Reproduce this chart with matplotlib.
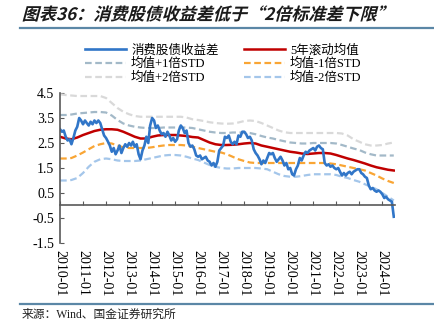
import numpy as np
import pandas as pd
import matplotlib
matplotlib.use("Agg")
import matplotlib.pyplot as plt
import matplotlib.patheffects as pe
from matplotlib.lines import Line2D
from matplotlib.transforms import Affine2D

plt.rcParams['axes.unicode_minus'] = False
plt.rcParams['font.family'] = ['Liberation Serif', 'Noto Sans CJK SC', 'DejaVu Sans']

title = "图表36：消费股债收益差低于“2倍标准差下限”"
source = "来源：Wind、国金证券研究所"
labels = ["消费股债收益差", "5年滚动均值", "均值+1倍STD", "均值-1倍STD", "均值+2倍STD", "均值-2倍STD"]
year_labels = ["%d-01" % y for y in range(2010, 2025)]

# monthly spread, 2010-01 .. 2024-07
spread = [
    3.05, 2.95, 3.0, 2.75, 2.6, 2.65, 2.45, 2.7, 3.0, 3.15, 3.5, 3.4,
    3.25, 3.4, 3.3, 3.2, 3.35, 3.25, 3.4, 3.3, 3.4, 3.3, 3.05, 2.8,
    2.7, 2.55, 2.4, 2.15, 2.3, 2.05, 2.2, 2.4, 2.1, 2.3, 2.45, 2.35,
    2.5, 2.4, 2.55, 2.35, 2.45, 2.05, 1.85, 2.2, 2.4, 2.75, 2.5, 3.2,
    3.5, 3.4, 3.1, 3.2, 3.0, 2.85, 2.9, 2.75, 2.95, 2.8, 2.6, 2.7,
    2.55, 2.65, 3.0, 3.2, 3.1, 2.9, 3.0, 2.5, 2.35, 2.4, 2.25, 2.0,
    1.95, 2.0, 1.85, 1.9, 1.95, 1.8, 1.75, 1.6, 1.7, 1.55, 1.75, 2.2,
    2.3, 2.4, 2.75, 2.7, 2.8, 2.55, 2.45, 2.55, 2.45, 2.8, 2.75, 2.95,
    2.95, 2.85, 2.7, 2.75, 2.6, 2.25, 2.1, 2.0, 1.85, 1.65, 1.8, 1.7,
    1.9, 2.1, 2.05, 2.1, 1.9, 1.75, 1.85, 1.95, 1.8, 1.6, 1.7, 1.45,
    1.5, 1.25, 1.2, 1.45, 1.6, 1.9, 1.8, 2.0, 2.15, 2.1, 2.2, 2.25,
    2.3, 2.2, 2.35, 2.4, 2.3, 2.25, 1.7, 1.6, 1.65, 1.55, 1.6, 1.5,
    1.45, 1.5, 1.35, 1.2, 1.3, 1.2, 1.3, 1.35, 1.25, 1.35, 1.4, 1.45,
    1.45, 1.3, 1.25, 1.15, 1.1, 0.8, 0.65, 0.7, 0.6, 0.55, 0.6, 0.55,
    0.45, 0.3, 0.35, 0.25, 0.2, 0.15, -0.45,
]

# quarterly bands, 2010-01 .. 2024-07
mean5 = [
    2.75, 2.68, 2.65, 2.72, 2.82, 2.9, 2.98, 3.03, 3.05, 3.05, 3.03, 2.95,
    2.85, 2.75, 2.68, 2.68, 2.75, 2.8, 2.82, 2.82, 2.82, 2.8, 2.78, 2.74,
    2.72, 2.62, 2.52, 2.45, 2.42, 2.42, 2.43, 2.45, 2.48, 2.5, 2.48, 2.4,
    2.35, 2.3, 2.25, 2.2, 2.15, 2.12, 2.08, 2.06, 2.08, 2.1, 2.1, 2.08,
    2.02, 1.95, 1.88, 1.82, 1.75, 1.68, 1.6, 1.53, 1.48, 1.43, 1.4,
]
plus1 = [
    3.62, 3.62, 3.64, 3.68, 3.7, 3.72, 3.74, 3.74, 3.72, 3.6, 3.42, 3.28,
    3.2, 3.15, 3.12, 3.1, 3.1, 3.1, 3.12, 3.12, 3.12, 3.12, 3.12, 3.1,
    3.05, 3.0, 2.95, 2.92, 2.9, 2.9, 2.92, 2.92, 2.92, 2.9, 2.85, 2.78,
    2.72, 2.68, 2.62, 2.57, 2.52, 2.5, 2.48, 2.48, 2.5, 2.5, 2.5, 2.5,
    2.48, 2.42, 2.35, 2.28, 2.22, 2.12, 2.05, 2.0, 2.0, 2.0, 2.0,
]
plus2 = [
    4.45, 4.42, 4.4, 4.38, 4.38, 4.38, 4.38, 4.38, 4.3, 4.1, 3.9, 3.75,
    3.65, 3.58, 3.55, 3.55, 3.55, 3.55, 3.55, 3.55, 3.55, 3.55, 3.52, 3.45,
    3.42, 3.38, 3.33, 3.3, 3.28, 3.27, 3.28, 3.32, 3.38, 3.4, 3.38, 3.3,
    3.2, 3.1, 3.0, 2.93, 2.9, 2.9, 2.9, 2.9, 2.9, 2.9, 2.9, 2.9,
    2.9, 2.88, 2.8, 2.65, 2.55, 2.45, 2.4, 2.4, 2.42, 2.48, 2.52,
]
minus1 = [
    1.88, 1.88, 1.9, 2.0, 2.12, 2.25, 2.38, 2.45, 2.5, 2.48, 2.4, 2.33,
    2.3, 2.3, 2.3, 2.3, 2.33, 2.37, 2.4, 2.42, 2.42, 2.42, 2.4, 2.35,
    2.3, 2.25, 2.2, 2.15, 2.12, 2.05, 1.95, 1.85, 1.78, 1.72, 1.7, 1.7,
    1.7, 1.7, 1.7, 1.7, 1.7, 1.7, 1.7, 1.7, 1.7, 1.7, 1.7, 1.68,
    1.65, 1.6, 1.55, 1.5, 1.45, 1.4, 1.3, 1.2, 1.08, 0.98, 0.9,
]
minus2 = [
    1.0, 1.0, 1.02, 1.1, 1.3, 1.55, 1.75, 1.85, 1.88, 1.85, 1.8, 1.78,
    1.78, 1.78, 1.8, 1.85, 1.9, 1.95, 2.0, 2.02, 2.02, 2.0, 1.95, 1.88,
    1.82, 1.72, 1.62, 1.55, 1.5, 1.48, 1.48, 1.5, 1.5, 1.5, 1.5, 1.48,
    1.45, 1.35, 1.25, 1.18, 1.15, 1.15, 1.18, 1.22, 1.25, 1.25, 1.25, 1.25,
    1.22, 1.15, 1.1, 1.02, 0.95, 0.85, 0.75, 0.65, 0.5, 0.35, 0.2,
]

months = pd.date_range("2010-01-01", periods=len(spread), freq="MS")
quarters = pd.date_range("2010-01-01", periods=len(mean5), freq="QS")


class Skew(pe.AbstractPathEffect):
    # fake italic for CJK title
    def __init__(self, deg=15):
        super().__init__()
        self._skew = Affine2D().skew_deg(deg, 0)

    def draw_path(self, renderer, gc, tpath, affine, rgbFace=None):
        renderer.draw_path(gc, tpath, self._skew + affine, rgbFace)


fig = plt.figure(figsize=(4.35, 3.34), dpi=100)
ax = fig.add_axes([0.138, 0.2725, 0.77, 0.449])

dash = (3, 1.6)
h_plus2, = ax.plot(quarters, plus2, color="#d9d9d9", lw=1.6, dashes=dash)
h_plus1, = ax.plot(quarters, plus1, color="#a3b9c8", lw=1.6, dashes=dash)
h_minus2, = ax.plot(quarters, minus2, color="#a4c6ea", lw=1.6, dashes=dash)
h_minus1, = ax.plot(quarters, minus1, color="#f9a534", lw=1.6, dashes=dash)
h_mean, = ax.plot(quarters, mean5, color="#c00000", lw=1.8)
h_spread, = ax.plot(months, spread, color="#3176c8", lw=1.9)

ax.set_ylim(-1.5, 4.5)
ax.set_yticks([-1.5, -0.5, 0.5, 1.5, 2.5, 3.5, 4.5])
ax.set_yticklabels(["-1.5", "-0.5", "0.5", "1.5", "2.5", "3.5", "4.5"])
ax.set_xlim(pd.Timestamp("2010-01-01"), pd.Timestamp("2024-07-20"))
ax.set_xticks(pd.date_range("2010-01-01", "2024-01-01", freq="YS"))
ax.set_xticklabels(year_labels)

for s in ["top", "right"]:
    ax.spines[s].set_visible(False)
ax.spines["bottom"].set_position(("data", 0))
for s in ["left", "bottom"]:
    ax.spines[s].set_color("#595959")
    ax.spines[s].set_linewidth(1.2)
ax.tick_params(axis="both", direction="in", length=3, color="#595959", labelsize=10)
ax.tick_params(axis="x", pad=32, labelrotation=270)
ax.tick_params(axis="y", pad=4)
for lab in ax.get_xticklabels():
    lab.set_ha("center")
    lab.set_va("top")

fig.legend([h_spread, h_plus1, h_plus2, h_mean, h_minus1, h_minus2],
           [labels[0], labels[2], labels[4], labels[1], labels[3], labels[5]],
           ncol=2, loc="upper left", bbox_to_anchor=(0.195, 0.868),
           frameon=False, fontsize=9, handlelength=3.3, handletextpad=0.4,
           columnspacing=2.0, labelspacing=0.12, borderpad=0, borderaxespad=0)

fig.text(0.05, 0.955, title, fontsize=12.3, fontweight="bold", color="#1a1a1a",
         family=["Noto Sans CJK SC"], va="center", ha="left",
         path_effects=[Skew(15)])
fig.add_artist(Line2D([0.046, 1.0], [0.915, 0.915], color="#5b87a6", lw=1.6))
fig.add_artist(Line2D([0.046, 1.0], [0.09, 0.09], color="#5b87a6", lw=1.6))
fig.text(0.05, 0.057, source, fontsize=8.5, color="#222222", va="center", ha="left")

fig.savefig("out.png", dpi=100)
